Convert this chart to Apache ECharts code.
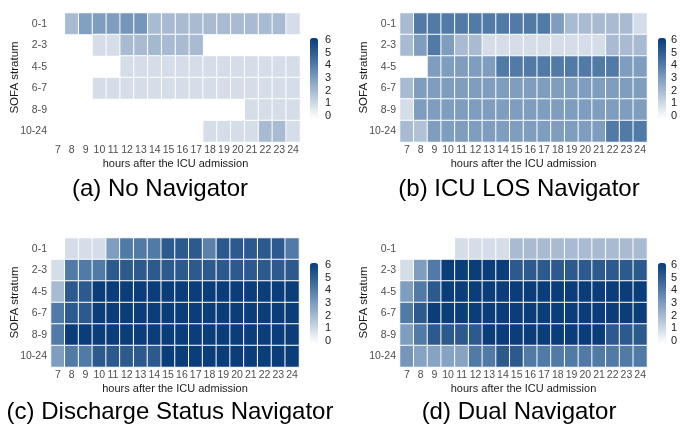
<!DOCTYPE html>
<html>
<head>
<meta charset="utf-8">
<script src="https://cdn.jsdelivr.net/npm/echarts@6/dist/echarts.min.js"></script>
<style>
  html, body { margin: 0; padding: 0; background: #fff; }
  #chart { width: 680px; height: 425px; }
</style>
</head>
<body>
<div id="chart"></div>
<script>
// Hours after ICU admission (columns) and SOFA strata (rows, top to bottom)
const hours = ['7','8','9','10','11','12','13','14','15','16','17','18','19','20','21','22','23','24'];
const strata = ['0-1','2-3','4-5','6-7','8-9','10-24'];
const legendTicks = [0, 1, 2, 3, 4, 5, 6];
const _ = null; // no observations in that cell

// (a) No Navigator
const noNavigator = [
  [_, 2, 2.9, 3, 3, 3.2, 3.2, 2, 2, 2, 2, 2, 2, 2, 2, 2, 2, 1],
  [_, _, _, 1, 1, 2, 2, 2.1, 2, 2, 2, _, _, _, _, _, _, _],
  [_, _, _, _, _, 1, 1, 1, 1, 1, 1, 1, 1, 1, 1, 1, 1, 1],
  [_, _, _, 1, 1, 1, 1, 1, 1, 1, 1, 1, 1, 1, 1, 1, 1, 1],
  [_, _, _, _, _, _, _, _, _, _, _, _, _, _, 1, 1, 1, 1],
  [_, _, _, _, _, _, _, _, _, _, _, 1, 1, 1, 1, 2, 2, 1]
];

// (b) ICU LOS Navigator
const icuLosNavigator = [
  [2, 4, 4, 4, 4, 4, 4, 4, 4, 4, 4, 3, 2, 2, 2, 2, 2, 1],
  [2, 3, 4, 3, 2, 2, 1, 1, 1, 1, 1, 1, 1, 1, 1, 2, 2, 2],
  [_, _, 3, 3, 3, 3, 3, 4, 4, 4, 4, 4, 4, 4, 4, 4, 3, 3],
  [2, 3, 3, 3, 3, 3, 3, 3, 3, 3, 3, 3, 3, 3, 3, 3, 3, 3],
  [1, 3, 3, 3, 3, 3, 3, 3, 3, 3, 3, 3, 3, 3, 3, 3, 3, 3],
  [2, 1.8, 3, 3, 3, 3, 3, 3, 3, 3, 3, 3, 3, 3, 3, 4, 4, 4]
];

// (c) Discharge Status Navigator
const dischargeNavigator = [
  [_, 1, 1, 1, 3, 4, 4, 4, 5, 5, 5, 3.8, 5, 5, 5, 5, 5, 4],
  [1, 4, 4, 4, 5, 5, 5, 5, 5, 5, 5, 5, 5, 5, 5, 5, 5, 5],
  [2, 5, 5, 6, 6, 6, 6, 6, 6, 6, 6, 6, 6, 6, 6, 6, 6, 6],
  [4, 5, 5, 6, 6, 6, 6, 6, 6, 6, 6, 6, 6, 6, 6, 6, 6, 6],
  [4, 6, 6, 6, 6, 6, 6, 6, 6, 6, 6, 6, 6, 6, 6, 6, 6, 6],
  [3, 4, 4, 5, 5, 5, 5, 5, 6, 6, 6, 6, 6, 6, 6, 6, 6, 6]
];

// (d) Dual Navigator
const dualNavigator = [
  [_, _, _, _, 1, 1, 1, 1, 2, 2, 2, 2, 2, 2, 2, 2, 2, 2],
  [1, 3, 4, 6, 6, 6, 6, 6, 5, 5, 5, 5, 5, 5, 5, 5, 5, 5],
  [3, 4, 5, 6, 6, 6, 6, 6, 6, 6, 6, 6, 6, 6, 6, 6, 6, 6],
  [4, 5, 6, 6, 6, 6, 6, 6, 6, 6, 6, 6, 6, 6, 6, 6, 6, 6],
  [3, 4, 5, 5, 5, 5, 6, 6, 6, 6, 6, 6, 6, 6, 6, 5, 5, 5],
  [3.2, 2.8, 2.8, 2.8, 2.8, 4, 4, 5, 5, 4, 4, 4, 4, 4, 4, 4, 4, 4]
];

const panelTitles = ['(a) No Navigator', '(b) ICU LOS Navigator', '(c) Discharge Status Navigator', '(d) Dual Navigator'];
const panelData = [noNavigator, icuLosNavigator, dischargeNavigator, dualNavigator];

// Layout of the 2x2 panels
const panels = [
  { left: 51,  top: 13,  width: 249, barLeft: 310, titleX: 160, titleY: 189 },
  { left: 400, top: 13,  width: 247, barLeft: 658, titleX: 519, titleY: 189 },
  { left: 51,  top: 238, width: 248, barLeft: 310, titleX: 170, titleY: 412 },
  { left: 400, top: 238, width: 247, barLeft: 658, titleX: 519, titleY: 412 }
];
const gridHeight = 129;
const fillColors = ['#ffffff', '#d4dde8', '#a8bbd2', '#7e9dbf', '#527aa6', '#2d5a8e', '#0b3d7a'];
const tickColor = '#4d4d4d';
const nameColor = '#1a1a1a';
const fontFamily = 'Liberation Sans, Arial, sans-serif';

function toCells(matrix) {
  const cells = [];
  matrix.forEach((row, r) => {
    row.forEach((v, c) => {
      if (v !== null) cells.push([c, r, v]);
    });
  });
  return cells;
}

const grid = [], xAxis = [], yAxis = [], series = [], visualMap = [], graphic = [];

panels.forEach((p, i) => {
  // heatmap panel
  grid.push({ left: p.left, top: p.top, width: p.width, height: gridHeight });
  xAxis.push({
    type: 'category', gridIndex: i, data: hours,
    axisLine: { show: false }, axisTick: { show: false }, splitLine: { show: false },
    axisLabel: { color: tickColor, fontSize: 10.5, margin: 3, interval: 0, fontFamily },
    name: 'hours after the ICU admission', nameLocation: 'middle', nameGap: 16,
    nameTextStyle: { color: nameColor, fontSize: 11, fontFamily }
  });
  yAxis.push({
    type: 'category', gridIndex: i, data: strata, inverse: true,
    axisLine: { show: false }, axisTick: { show: false }, splitLine: { show: false },
    axisLabel: { color: tickColor, fontSize: 10.5, margin: 4, fontFamily },
    name: 'SOFA stratum', nameLocation: 'middle', nameGap: 30, nameRotate: 90,
    nameMoveOverlap: false,
    nameTextStyle: { color: nameColor, fontSize: 11.5, fontFamily }
  });
  series.push({
    type: 'heatmap', xAxisIndex: i, yAxisIndex: i,
    data: toCells(panelData[i]),
    itemStyle: { borderColor: '#ffffff', borderWidth: 1 },
    emphasis: { disabled: true }
  });
  visualMap.push({
    type: 'continuous', seriesIndex: i, min: 0, max: 6,
    orient: 'vertical', left: p.barLeft, top: p.top + 25,
    itemWidth: 8, itemHeight: 80, padding: 0,
    calculable: false, text: null, showLabel: false,
    inRange: { color: fillColors }
  });
  graphic.push({
    type: 'text', x: p.titleX, y: p.titleY,
    style: {
      text: panelTitles[i], fill: '#000', font: '24px ' + fontFamily,
      textAlign: 'center', textVerticalAlign: 'middle'
    }
  });
});

// colour bar tick labels, one small axis per panel laid over its bar
panels.forEach((p, i) => {
  const gi = grid.length;
  grid.push({ left: p.barLeft, top: p.top + 27, width: 8, height: 76 });
  xAxis.push({ type: 'value', gridIndex: gi, show: false });
  yAxis.push({
    type: 'value', gridIndex: gi, min: 0, max: 6, interval: 1, position: 'right', z: 6,
    axisLine: { show: false }, splitLine: { show: false },
    axisTick: { show: true, inside: true, length: 2, lineStyle: { color: '#ffffff', width: 1 } },
    axisLabel: {
      color: '#222', fontSize: 11, margin: 7, fontFamily,
      formatter: v => (legendTicks.includes(v) ? String(v) : '')
    }
  });
});

const chart = echarts.init(document.getElementById('chart'), null, { renderer: 'canvas' });
chart.setOption({
  animation: false,
  backgroundColor: '#ffffff',
  grid, xAxis, yAxis, series, visualMap, graphic
});
</script>
</body>
</html>
